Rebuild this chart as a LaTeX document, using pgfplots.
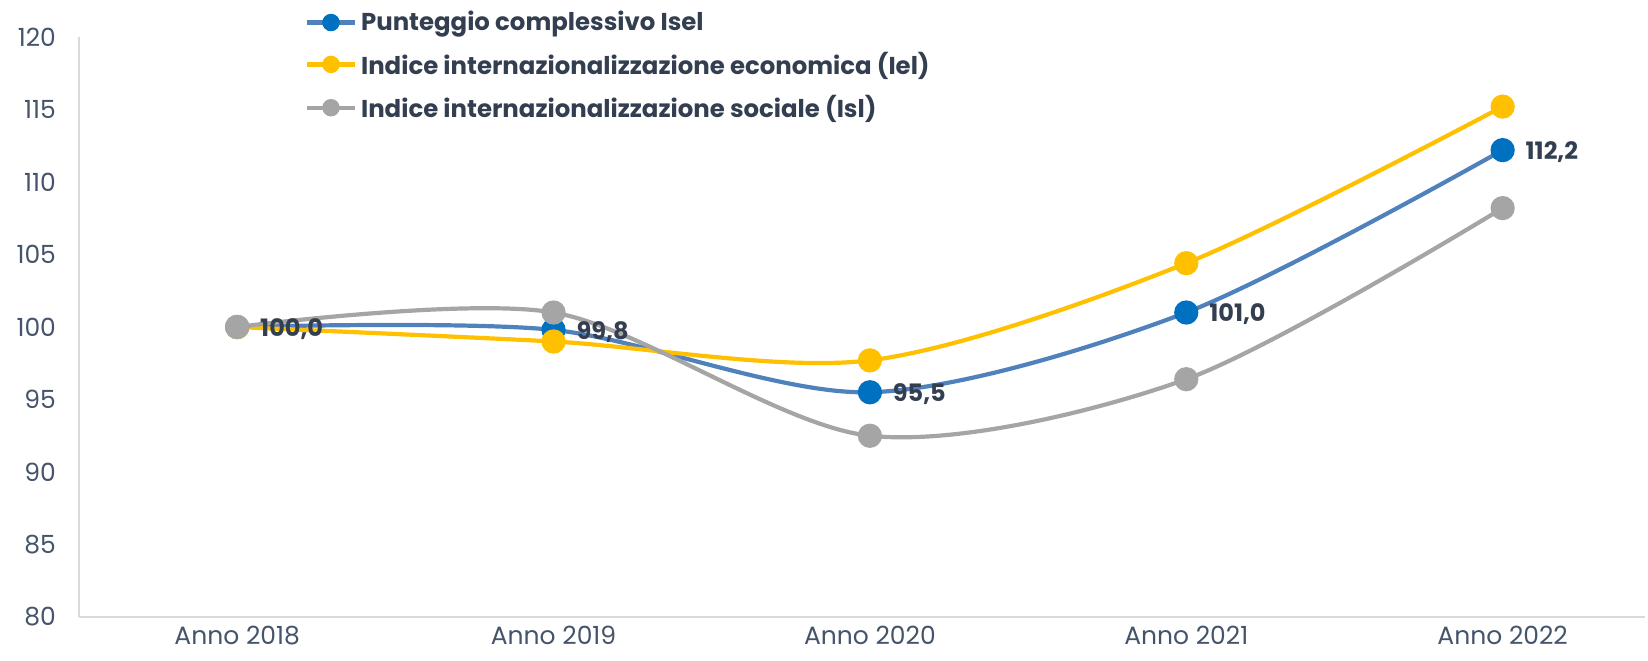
\documentclass[border=0pt]{standalone}
\usepackage{pgfplots}
\pgfplotsset{compat=1.18}
\usepackage{fontspec}
\setmainfont{Poppins}
\definecolor{cblue}{HTML}{0070C0}
\definecolor{cblueline}{HTML}{4F81BD}
\definecolor{cyellow}{HTML}{FFC000}
\definecolor{cgray}{HTML}{A5A5A5}
\definecolor{ctext}{HTML}{44546A}
\definecolor{cdark}{HTML}{333F50}
\definecolor{caxis}{HTML}{D9D9D9}
\begin{document}
\begin{tikzpicture}
\useasboundingbox (-39.5pt,-21.5pt) rectangle (784.5pt,308.5pt);
\begin{axis}[
  at={(0,0)}, anchor=south west,
  scale only axis,
  width=783pt, height=290pt,
  xmin=-0.5, xmax=4.45,
  ymin=80, ymax=120,
  ytick={80,85,...,120},
  xtick={0,1,2,3,4},
  xticklabels={Anno 2018,Anno 2019,Anno 2020,Anno 2021,Anno 2022},
  axis x line*=bottom, axis y line*=left,
  axis line style={caxis, line width=1pt},
  x axis line style={-}, y axis line style={-},
  tick style={draw=none},
  ticklabel style={font=\fontsize{12.5}{14}\selectfont, text=ctext},
  /pgf/number format/assume math mode=true,
  yticklabel style={xshift=-8pt},
  xticklabel style={yshift=-3.5pt, inner ysep=1pt},
  clip=false,
  legend style={draw=none, fill=none, at={(0.144,1.052)}, anchor=north west,
    font=\bfseries\fontsize{12.2}{14}\selectfont, text=cdark,
    row sep=5pt, inner sep=0pt, cells={anchor=west}},
  legend cell align=left,
  legend image code/.code={
    \draw[#1, mark=none] (0pt,0pt) -- (24pt,0pt);
    \draw[#1, mark size=3.3pt] plot coordinates {(12pt,0pt)};
  },
]
\addplot[cblueline, line width=2.1pt, smooth, mark=*, mark size=5pt,
  mark options={fill=cblue, draw=cblue}]
  coordinates {(0,100.0) (1,99.8) (2,95.5) (3,101.0) (4,112.2)};
\addlegendentry{Punteggio complessivo Isel}
\addplot[cyellow, line width=2.1pt, smooth, mark=*, mark size=5pt,
  mark options={fill=cyellow, draw=cyellow}]
  coordinates {(0,100.0) (1,99.0) (2,97.7) (3,104.4) (4,115.2)};
\addlegendentry{Indice internazionalizzazione economica (Iel)}
\addplot[cgray, line width=2.1pt, smooth, mark=*, mark size=5pt,
  mark options={fill=cgray, draw=cgray}]
  coordinates {(0,100.0) (1,101.0) (2,92.5) (3,96.4) (4,108.2)};
\addlegendentry{Indice internazionalizzazione sociale (Isl)}
\addplot[draw=none, mark=none, forget plot,
  nodes near coords={\pgfmathprintnumber[fixed,fixed zerofill,precision=1,use comma]{\pgfplotspointmeta}},
  every node near coord/.append style={anchor=west, xshift=8pt, yshift=-1pt,
    font=\bfseries\fontsize{12}{14}\selectfont, text=cdark}]
  coordinates {(0,100.0) (1,99.8) (2,95.5) (3,101.0) (4,112.2)};
\end{axis}
\end{tikzpicture}
\end{document}
